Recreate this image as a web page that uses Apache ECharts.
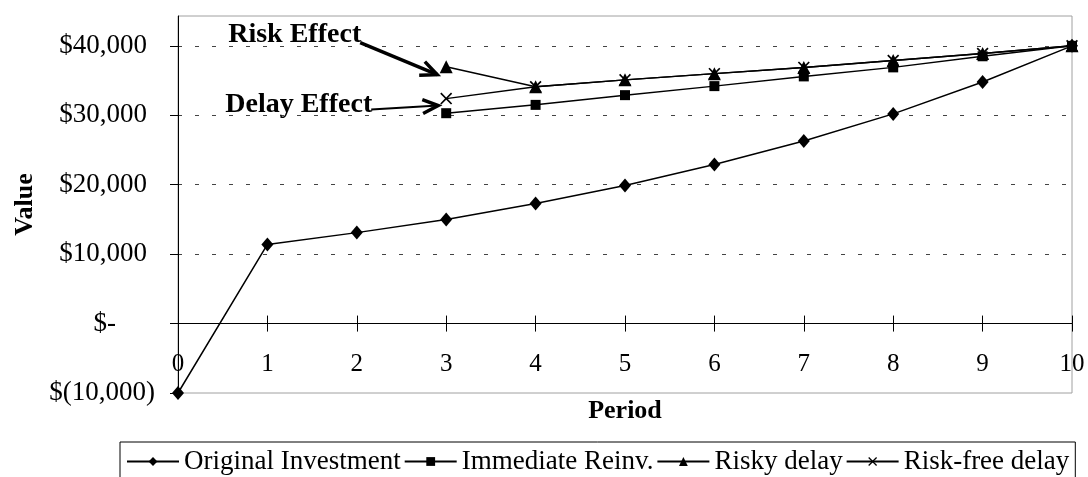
<!DOCTYPE html>
<html>
<head>
<meta charset="utf-8">
<script src="https://cdn.jsdelivr.net/npm/echarts@6/dist/echarts.min.js"></script>
<style>
  html, body { margin: 0; padding: 0; background: #fff; }
  #chart { width: 1088px; height: 477px; }
</style>
</head>
<body>
<div id="chart"></div>
<script>
// Value of each strategy by period
const periods = [0, 1, 2, 3, 4, 5, 6, 7, 8, 9, 10];
const originalInvestment = [-10000, 11400, 13100, 15000, 17300, 19900, 22900, 26300, 30200, 34800, 40000];
const immediateReinv     = [null, null, null, 30300, 31500, 32900, 34200, 35600, 36900, 38500, 40000];
const riskyDelay         = [null, null, null, 37000, 34100, 35100, 36000, 36900, 37900, 38900, 40000];
const riskFreeDelay      = [null, null, null, 32400, 34100, 35100, 36000, 36900, 37900, 38900, 40000];
const seriesNames = ['Original Investment', 'Immediate Reinv.', 'Risky delay', 'Risk-free delay'];
const yTicks = [-10000, 0, 10000, 20000, 30000, 40000];
const xTicks = periods;

const FONT = '"Liberation Serif", "Times New Roman", serif';
const X_MARK = 'path://M0,1 L1,0 L5,4 L9,0 L10,1 L6,5 L10,9 L9,10 L5,6 L1,10 L0,9 L4,5 Z';
const Y_MIN = -10000, Y_MAX = 44300;

function pairs(values) {
  const out = [];
  values.forEach((v, i) => { if (v !== null) out.push([periods[i], v]); });
  return out;
}

function money(v) {
  return Math.abs(v).toLocaleString('en-US');
}

function lineSeries(name, values, symbol, size) {
  return {
    name: name,
    type: 'line',
    data: pairs(values),
    symbol: symbol,
    symbolSize: size,
    showAllSymbol: true,
    lineStyle: { color: '#000', width: 1.5 },
    itemStyle: { color: '#000' },
    emphasis: { disabled: true },
    z: 5
  };
}

const chart = echarts.init(document.getElementById('chart'), null, { renderer: 'canvas' });

const yLabelFont = { fontFamily: FONT, fontSize: 27, color: '#000' };

chart.setOption({
  animation: false,
  backgroundColor: '#fff',
  grid: {
    left: 178, right: 16, top: 16, bottom: 84,
    containLabel: false, outerBoundsMode: 'none',
    show: true, borderColor: '#a0a0a0', borderWidth: 1, backgroundColor: 'transparent'
  },
  xAxis: [
    {
      // main period axis; lifted onto the zero line once the scale is known
      type: 'value', min: 0, max: 10, interval: 1, position: 'bottom', z: 4, offset: 0,
      axisLine: { show: true, onZero: false, lineStyle: { color: '#000', width: 1 } },
      axisTick: { show: true, inside: false, length: 8, lineStyle: { color: '#000' } },
      axisLabel: { margin: 28, customValues: xTicks, fontFamily: FONT, fontSize: 25, color: '#000' },
      splitLine: { show: false },
      name: 'Period', nameLocation: 'middle', nameGap: 75,
      nameTextStyle: { fontFamily: FONT, fontSize: 26, fontWeight: 'bold', color: '#000' }
    },
    {
      // upper halves of the crossing tick marks
      type: 'value', min: 0, max: 10, interval: 1, position: 'bottom', z: 4,
      axisLine: { show: true, onZero: true, onZeroAxisIndex: 1, lineStyle: { color: '#000', width: 1 } },
      axisTick: { show: true, inside: true, length: 8, lineStyle: { color: '#000' } },
      axisLabel: { show: false },
      splitLine: { show: false }
    }
  ],
  yAxis: [
    {
      type: 'value', min: Y_MIN, max: Y_MAX, interval: 10000, position: 'left',
      axisLine: { show: true, lineStyle: { color: '#000', width: 1 } },
      axisTick: { show: true, inside: false, length: 8, customValues: yTicks, lineStyle: { color: '#000' } },
      axisLabel: Object.assign({
        margin: 23,
        customValues: yTicks,
        formatter: function (v) {
          if (v === 0) return '{z|$-}';
          if (v < 0) return '{n|$(' + money(v) + ')}';
          return '{p|$' + money(v) + '}';
        },
        rich: {
          p: { fontFamily: FONT, fontSize: 27, color: '#000', padding: [0, 8, 0, 0] },
          z: { fontFamily: FONT, fontSize: 27, color: '#000', padding: [0, 39, 0, 0] },
          n: { fontFamily: FONT, fontSize: 27, color: '#000' }
        }
      }, yLabelFont),
      splitLine: {
        show: true, showMinLine: false, showMaxLine: true,
        lineStyle: { color: '#444', width: 1, type: [4, 13] }
      },
      name: 'Value', nameLocation: 'middle', nameGap: 138,
      nameTextStyle: { fontFamily: FONT, fontSize: 26, fontWeight: 'bold', color: '#000' }
    },
    {
      // silent twin of the value axis, anchors the second period axis at zero
      type: 'value', min: Y_MIN, max: Y_MAX, interval: 10000, position: 'right',
      axisLine: { show: false }, axisTick: { show: false },
      axisLabel: { show: false }, splitLine: { show: false }
    }
  ],
  legend: {
    data: seriesNames,
    left: 120, top: 442,
    padding: [6, 6, 20, 6],
    borderColor: '#000', borderWidth: 1,
    itemWidth: 52, itemHeight: 11, itemGap: 3,
    selectedMode: false,
    textStyle: { fontFamily: FONT, fontSize: 27, color: '#000' }
  },
  series: [
    lineSeries(seriesNames[0], originalInvestment, 'diamond', [12, 14]),
    lineSeries(seriesNames[1], immediateReinv, 'rect', 10),
    lineSeries(seriesNames[2], riskyDelay, 'triangle', 13),
    lineSeries(seriesNames[3], riskFreeDelay, X_MARK, 12)
  ]
});

// Move the labelled period axis up to the zero value line
const yZeroPx = chart.convertToPixel({ yAxisIndex: 0 }, 0);
const yMinPx = chart.convertToPixel({ yAxisIndex: 0 }, Y_MIN);
chart.setOption({ xAxis: [{ offset: yZeroPx - yMinPx }, {}] });

// Callout arrows pointing at the period-3 points of the two delay strategies
function arrowGraphics(tip, start, width, headLen, headWidth) {
  const ang = Math.atan2(start[1] - tip[1], start[0] - tip[0]);
  const spread = 0.42;
  const a1 = [tip[0] + headLen * Math.cos(ang + spread), tip[1] + headLen * Math.sin(ang + spread)];
  const a2 = [tip[0] + headLen * Math.cos(ang - spread), tip[1] + headLen * Math.sin(ang - spread)];
  return [
    { type: 'line', shape: { x1: start[0], y1: start[1], x2: tip[0], y2: tip[1] },
      style: { stroke: '#000', lineWidth: width }, z: 10 },
    { type: 'polyline', shape: { points: [a1, tip, a2] },
      style: { stroke: '#000', lineWidth: headWidth, fill: null, lineJoin: 'miter' }, z: 10 }
  ];
}

const riskPt = chart.convertToPixel({ seriesIndex: 2 }, [3, riskyDelay[3]]);
const delayPt = chart.convertToPixel({ seriesIndex: 3 }, [3, riskFreeDelay[3]]);

const riskTip = [riskPt[0] - 9, riskPt[1] + 8];
const riskStart = [riskTip[0] - 77, riskTip[1] - 32];
const delayTip = [delayPt[0] - 8, delayPt[1] + 7];
const delayStart = [delayTip[0] - 67, delayTip[1] + 4];

const graphics = []
  .concat(arrowGraphics(riskTip, riskStart, 3.5, 18, 3.5))
  .concat(arrowGraphics(delayTip, delayStart, 2, 17, 3.5))
  .concat([
    { type: 'text', x: riskStart[0] + 1, y: riskStart[1] - 8, z: 10,
      style: { text: 'Risk Effect', font: 'bold 28px ' + FONT, fill: '#000', align: 'right', verticalAlign: 'middle' } },
    { type: 'text', x: delayStart[0] + 1, y: delayStart[1] - 5, z: 10,
      style: { text: 'Delay Effect', font: 'bold 28px ' + FONT, fill: '#000', align: 'right', verticalAlign: 'middle' } }
  ]);

chart.setOption({ graphic: graphics });
</script>
</body>
</html>
